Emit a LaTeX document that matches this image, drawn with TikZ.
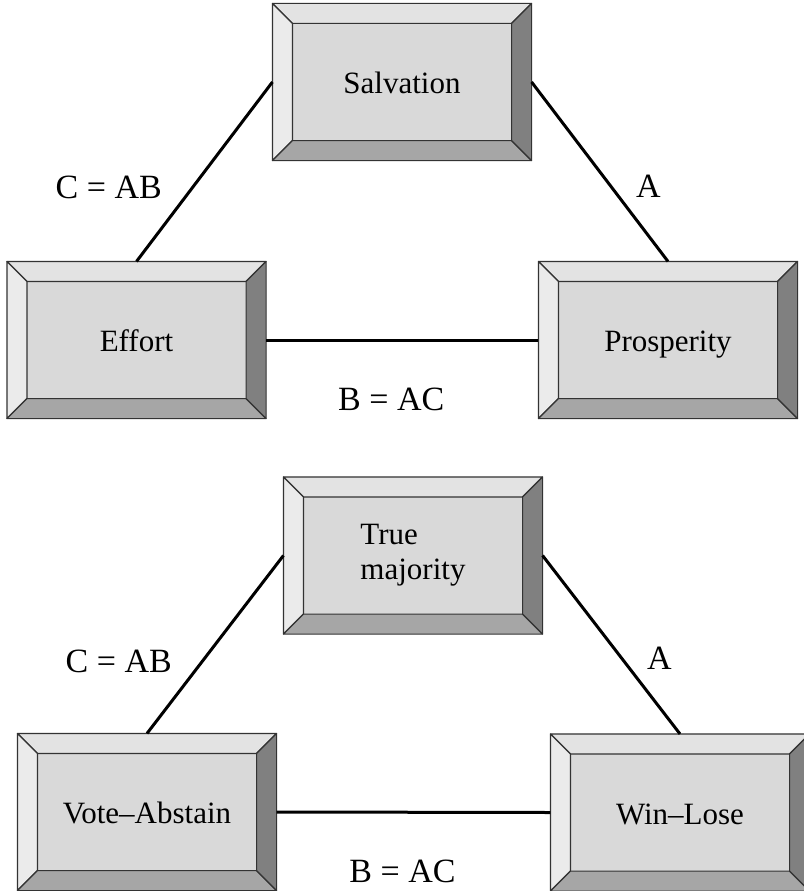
\documentclass[tikz,border=0pt]{standalone}
\usepackage{fontspec}
\setmainfont{Liberation Serif}
\usetikzlibrary{positioning}

\definecolor{boxface}{gray}{0.85}
\definecolor{boxtop}{gray}{0.89}
\definecolor{boxleft}{gray}{0.92}
\definecolor{boxbottom}{gray}{0.65}
\definecolor{boxright}{gray}{0.50}
\definecolor{boxedge}{gray}{0.2}

% the four bevel sides of a box node
\newcommand{\bevelsides}[1]{%
  \filldraw[bevel, fill=boxtop] (#1.north west) -- (#1.north east) -- ([shift={(-20pt,-20pt)}]#1.north east) -- ([shift={(20pt,-20pt)}]#1.north west) -- cycle;
  \filldraw[bevel, fill=boxleft] (#1.north west) -- ([shift={(20pt,-20pt)}]#1.north west) -- ([shift={(20pt,20pt)}]#1.south west) -- (#1.south west) -- cycle;
  \filldraw[bevel, fill=boxbottom] (#1.south west) -- ([shift={(20pt,20pt)}]#1.south west) -- ([shift={(-20pt,20pt)}]#1.south east) -- (#1.south east) -- cycle;
  \filldraw[bevel, fill=boxright] (#1.north east) -- (#1.south east) -- ([shift={(-20pt,20pt)}]#1.south east) -- ([shift={(-20pt,-20pt)}]#1.north east) -- cycle;
}

\begin{document}
\begin{tikzpicture}[x=1pt, y=-1pt,
  every node/.style={font=\fontsize{31}{35}\selectfont},
  box/.style={draw=boxedge, line width=1.1pt, fill=boxface, minimum width=258pt, minimum height=156pt, align=left, inner sep=0pt},
  oneline/.style={text height=23pt, text depth=0pt},
  bevel/.style={draw=boxedge, line width=1.1pt, line join=round},
  link/.style={line width=3pt},
  lbl/.style={inner sep=0pt, font=\fontsize{34}{38}\selectfont}]
  \useasboundingbox (0,0) rectangle (803,891);

  % upper triangle
  \node[box, oneline] (salvation) at (402,82) {Salvation};
  \node[box, oneline] (effort) at (136.5,340) {Effort};
  \node[box, oneline] (prosperity) at (668,340) {Prosperity};
  \bevelsides{salvation}
  \bevelsides{effort}
  \bevelsides{prosperity}

  \draw[link] (salvation.west) -- node[lbl, pos=0.59, left=29pt] {C = AB} (effort.north);
  \draw[link] (salvation.east) -- node[lbl, pos=0.58, right=24pt] {A} (prosperity.north);
  \draw[link] (effort.east) -- node[lbl, below=46pt, xshift=-11pt] {B = AC} (prosperity.west);

  % lower triangle
  \node[box] (majority) at (413,555.5) {True\\majority};
  \node[box, oneline] (vote) at (147,812) {Vote--Abstain};
  \node[box, oneline] (winlose) at (680,812.5) {Win--Lose};
  \bevelsides{majority}
  \bevelsides{vote}
  \bevelsides{winlose}

  \draw[link] (majority.west) -- node[lbl, pos=0.595, left=29pt] {C = AB} (vote.north);
  \draw[link] (majority.east) -- node[lbl, pos=0.575, right=24pt] {A} (winlose.north);
  \draw[link] (vote.east) -- node[lbl, below=46pt, xshift=-11pt] {B = AC} (winlose.west);
\end{tikzpicture}
\end{document}
